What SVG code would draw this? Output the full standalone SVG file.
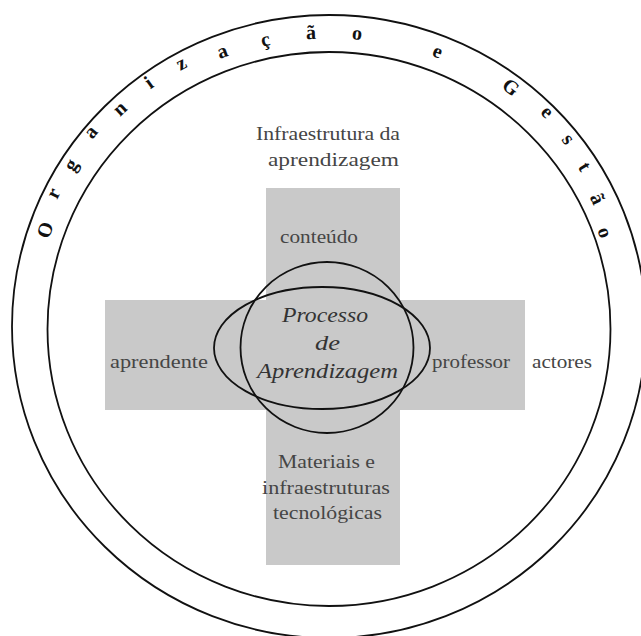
<svg xmlns="http://www.w3.org/2000/svg" width="641" height="636" viewBox="0 0 641 636">
<style>
.ring{fill:none;stroke:#111;stroke-width:1.8}
.band{fill:#c9c9c9}
.lbl{font-family:"Liberation Serif","Times New Roman",serif;font-size:18px;fill:#454545}
.ctr{font-family:"Liberation Serif","Times New Roman",serif;font-size:21px;font-style:italic;fill:#333}
.arc{font-family:"Liberation Serif","Times New Roman",serif;font-size:20px;font-weight:bold;fill:#111;text-anchor:middle}
</style>
<rect width="641" height="636" fill="#fff"/>
<g id="organizacao-gestao">
<ellipse class="ring" cx="329" cy="326.5" rx="317" ry="311.5"/>
<ellipse class="ring" cx="329" cy="329" rx="281.5" ry="277"/>
<text class="arc" transform="translate(45,230) rotate(-70.6)" y="6.8">O</text>
<text class="arc" transform="translate(55,194) rotate(-63.5)" y="4.5">r</text>
<text class="arc" transform="translate(74,167) rotate(-57.2)" y="2.5">g</text>
<text class="arc" transform="translate(92,133) rotate(-50)" y="4.5">a</text>
<text class="arc" transform="translate(121,110) rotate(-43)" y="4.5">n</text>
<text class="arc" transform="translate(149,83) rotate(-35.5)" y="6">i</text>
<text class="arc" transform="translate(182,65) rotate(-28.4)" y="4.5">z</text>
<text class="arc" transform="translate(223,53) rotate(-20.2)" y="4.5">a</text>
<text class="arc" transform="translate(266,43) rotate(-11.5)" y="3">ç</text>
<text class="arc" transform="translate(311,34) rotate(-2.5)" y="5">ã</text>
<text class="arc" transform="translate(357,35) rotate(6.6)" y="4.5">o</text>
<text class="arc" transform="translate(437,53) rotate(22.3)" y="4.5">e</text>
<text class="arc" transform="translate(511,87) rotate(37.8)" y="6.8">G</text>
<text class="arc" transform="translate(546,113) rotate(45.9)" y="4.5">e</text>
<text class="arc" transform="translate(567,140) rotate(52.3)" y="4.5">s</text>
<text class="arc" transform="translate(584,167) rotate(58.2)" y="5.5">t</text>
<text class="arc" transform="translate(597,199) rotate(64.7)" y="6">ã</text>
<text class="arc" transform="translate(603,233) rotate(71.2)" y="4.5">o</text>
</g>
<g id="cross">
<rect class="band" x="266" y="188" width="134" height="377"/>
<rect class="band" x="105" y="300" width="420" height="110"/>
</g>
<g id="infraestrutura">
<text class="lbl" x="256" y="140" textLength="144" lengthAdjust="spacingAndGlyphs">Infraestrutura da</text>
<text class="lbl" x="268" y="166" textLength="131" lengthAdjust="spacingAndGlyphs">aprendizagem</text>
</g>
<g id="conteudo">
<text class="lbl" x="280" y="243" textLength="78" lengthAdjust="spacingAndGlyphs">conteúdo</text>
</g>
<g id="aprendente">
<text class="lbl" x="110" y="368" textLength="98" lengthAdjust="spacingAndGlyphs">aprendente</text>
</g>
<g id="professor">
<text class="lbl" x="432" y="368" textLength="78" lengthAdjust="spacingAndGlyphs">professor</text>
</g>
<g id="actores">
<text class="lbl" x="532" y="368" textLength="60" lengthAdjust="spacingAndGlyphs">actores</text>
</g>
<g id="materiais">
<text class="lbl" x="278" y="468" textLength="97" lengthAdjust="spacingAndGlyphs">Materiais e</text>
<text class="lbl" x="262" y="494" textLength="128" lengthAdjust="spacingAndGlyphs">infraestruturas</text>
<text class="lbl" x="273" y="519" textLength="109" lengthAdjust="spacingAndGlyphs">tecnológicas</text>
</g>
<g id="processo">
<ellipse class="ring" cx="322" cy="348" rx="108" ry="61"/>
<ellipse class="ring" cx="327" cy="347.5" rx="86.5" ry="85.5"/>
<text class="ctr" x="282" y="322" textLength="86" lengthAdjust="spacingAndGlyphs">Processo</text>
<text class="ctr" x="315" y="350" textLength="25" lengthAdjust="spacingAndGlyphs">de</text>
<text class="ctr" x="257" y="378" textLength="141" lengthAdjust="spacingAndGlyphs">Aprendizagem</text>
</g>
</svg>
